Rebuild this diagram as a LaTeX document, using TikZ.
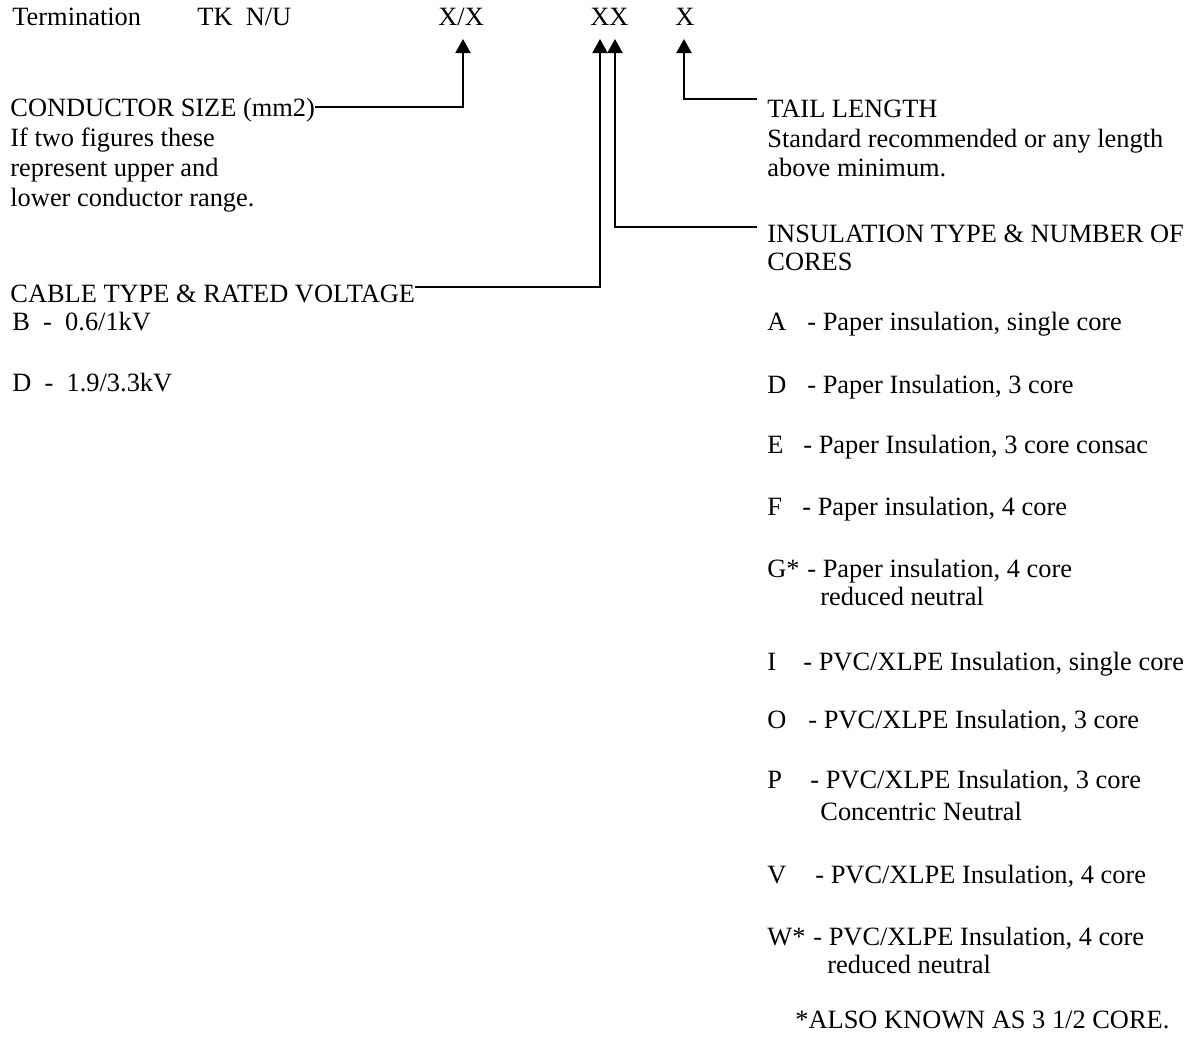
\documentclass[tikz,border=0pt]{standalone}
\usepackage{fontspec}
\setmainfont{Liberation Serif}
\usetikzlibrary{arrows.meta,positioning}

\tikzset{
  txt/.style={inner sep=0pt, anchor=base west, font=\fontsize{13.2}{14.7}\selectfont},
  lbl/.style={txt, inner xsep=5pt},
  lead/.style={line width=1pt},
  pointer/.style={lead, -{Triangle[width=7.5pt,length=7pt]}},
}

\begin{document}
\begin{tikzpicture}[x=0.5pt, y=-0.5pt]
  \useasboundingbox (0,0) rectangle (1200,1040);

  % code line
  \node[txt] (term) at (12,25) {Termination};
  \node[txt] (tk) at (197,25) {TK~~N/U};
  \node[txt] (size) at (438,25) {X/X};
  \node[txt] (cab) at (590,25) {X};
  \node[txt] (ins) at (609,25) {X};
  \node[txt] (tail) at (675,25) {X};

  \coordinate (sizetip) at (463,39);
  \coordinate (cabtip) at (600,39);
  \coordinate (instip) at (615,39);
  \coordinate (tailtip) at (684,39);

  % left side
  \node[txt] (condsize) at (10,116) {CONDUCTOR SIZE (mm2)};
  \node[txt] (cond1) at (10,146) {If two figures these};
  \node[txt] (cond2) at (10,176) {represent upper and};
  \node[txt] (cond3) at (10,206) {lower conductor range.};

  \node[txt] (cable) at (10,302) {CABLE TYPE \& RATED VOLTAGE};
  \node[txt] (voltB) at (12,330) {B~~-~~0.6/1kV};
  \node[txt] (voltD) at (12,391) {D~~-~~1.9/3.3kV};

  % right side
  \node[lbl] (taillbl) at (757,117) {TAIL LENGTH};
  \node[txt] (tail1) at (767,147) {Standard recommended or any length};
  \node[txt] (tail2) at (767,176) {above minimum.};

  \node[lbl] (inslbl) at (757,242) {INSULATION TYPE \& NUMBER OF};
  \node[txt] (ins1) at (767,270) {CORES};

  \node[txt] (kA) at (767,330) {A};
  \node[txt] (dA) at (807,330) {- Paper insulation, single core};
  \node[txt] (kD) at (767,393) {D};
  \node[txt] (dD) at (807,393) {- Paper Insulation, 3 core};
  \node[txt] (kE) at (767,453) {E};
  \node[txt] (dE) at (803,453) {- Paper Insulation, 3 core consac};
  \node[txt] (kF) at (767,515) {F};
  \node[txt] (dF) at (802,515) {- Paper insulation, 4 core};
  \node[txt] (kG) at (767,577) {G*};
  \node[txt] (dG) at (807,577) {- Paper insulation, 4 core};
  \node[txt] (dG2) at (820,605) {reduced neutral};
  \node[txt] (kI) at (767,670) {I};
  \node[txt] (dI) at (803,670) {- PVC/XLPE Insulation, single core};
  \node[txt] (kO) at (767,728) {O};
  \node[txt] (dO) at (808,728) {- PVC/XLPE Insulation, 3 core};
  \node[txt] (kP) at (767,788) {P};
  \node[txt] (dP) at (810,788) {- PVC/XLPE Insulation, 3 core};
  \node[txt] (dP2) at (820,820) {Concentric Neutral};
  \node[txt] (kV) at (767,883) {V};
  \node[txt] (dV) at (815,883) {- PVC/XLPE Insulation, 4 core};
  \node[txt] (kW) at (767,945) {W*};
  \node[txt] (dW) at (813,945) {- PVC/XLPE Insulation, 4 core};
  \node[txt] (dW2) at (827,973) {reduced neutral};
  \node[txt] (note) at (795,1028) {*ALSO KNOWN AS 3 1/2 CORE.};

  % leaders
  \draw[pointer] ([yshift=1.5pt]condsize.east) -| (sizetip);
  \draw[pointer] ([yshift=3pt]cable.east) -| (cabtip);
  \draw[pointer] ([yshift=3pt]inslbl.west) -| (instip);
  \draw[pointer] ([yshift=4.5pt]taillbl.west) -| (tailtip);
\end{tikzpicture}
\end{document}
